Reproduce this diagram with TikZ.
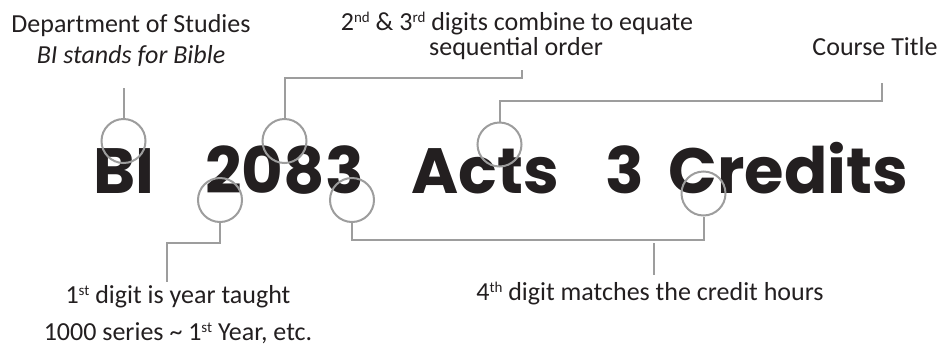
\documentclass[tikz,border=0pt]{standalone}
\usepackage{fontspec}
\setmainfont{Carlito}
\newfontfamily\titlefont{Poppins}
\usetikzlibrary{calc}
\definecolor{leadgray}{HTML}{9D9D9D}
\definecolor{inkblack}{HTML}{231F20}
\def\drawlead{\draw[color=leadgray, line width=2pt]}
\def\ringnode{\node[circle,draw=leadgray,line width=2pt,minimum size=44pt,inner sep=0pt]}
\def\wordnode{\node[anchor=base,inner sep=0pt,text=inkblack,font=\titlefont\bfseries\fontsize{64}{64}\selectfont]}
\def\notenode{\node[anchor=base,inner sep=0pt,text=inkblack,font=\fontsize{26}{31}\selectfont]}
\def\ordsup#1{\raisebox{7.5pt}{\fontsize{15}{15}\selectfont #1}}

\begin{document}
\begin{tikzpicture}[x=1pt,y=-1pt]
\useasboundingbox (0,0) rectangle (946,346);
\coordinate (o) at (0,193); % baseline of the course number

% The course number, word by word
\wordnode (bi) at ($ (o) + (124,0) $) {BI};
\wordnode (num) at ($ (o) + (284.5,0) $) {2083};
\wordnode (acts) at ($ (o) + (485,0) $) {Acts};
\wordnode (hours) at ($ (o) + (624.5,0) $) {3};
\wordnode (credits) at ($ (o) + (788.5,0) $) {Credits};

% Notes above
\notenode (dept) at (131,32) {Department of Studies};
\notenode (dept_note) at (131,63) {\itshape BI stands for Bible};
\notenode (seq) at (517,30) {2\ordsup{nd} \& 3\ordsup{rd} digits combine to equate};
\notenode (seq_note) at (516,55) {sequential order};
\notenode (course) at (875,55) {Course Title};

% Notes below
\notenode (year) at (178,303) {1\ordsup{st} digit is year taught};
\notenode (year_note) at (178,340) {1000 series \textasciitilde{} 1\ordsup{st} Year, etc.};
\notenode (four) at (650,300) {4\ordsup{th} digit matches the credit hours};

% Rings round the parts
\ringnode (r_dept) at ($ (o) + (123.5,-52) $) {};
\ringnode (r_seq) at ($ (o) + (284.5,-52) $) {};
\ringnode (r_title) at ($ (o) + (499.5,-48.5) $) {};
\ringnode (r_year) at ($ (o) + (220,7) $) {};
\ringnode (r_four) at ($ (o) + (352,7) $) {};
\ringnode (r_credit) at ($ (o) + (703.5,0.5) $) {};

% Leads up to the notes
\coordinate (dept_end) at (123.5,88);
\coordinate (seq_end) at (522,70);
\coordinate (course_end) at (882,83);
\drawlead (r_dept.north) -- (dept_end);
\drawlead (r_seq.north) |- ($ (seq_end) + (0,8) $) -- (seq_end);
\drawlead (r_title.north) |- ($ (course_end) + (0,18) $) -- (course_end);

% Leads down to the notes
\coordinate (year_end) at (167,282);
\drawlead (r_year.south) |- ($ (year_end) + (0,-39) $) -- (year_end);
\drawlead (r_four.south) |- ($ (r_credit.south) + (0,23) $) -- (r_credit.south);
\coordinate (four_top) at (654,243);
\coordinate (four_end) at (654,275);
\drawlead (four_top) -- (four_end);
\end{tikzpicture}
\end{document}
